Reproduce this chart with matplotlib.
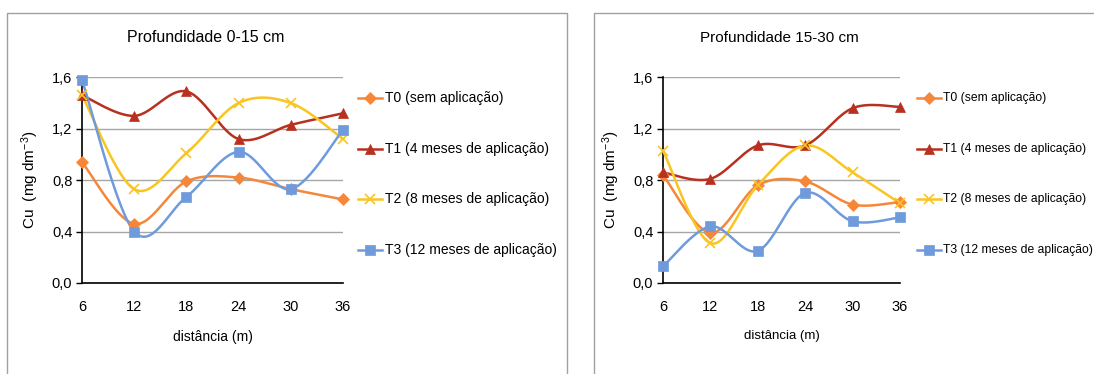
import numpy as np
import matplotlib
matplotlib.use("Agg")
import matplotlib.pyplot as plt
from matplotlib.patches import Rectangle
from matplotlib.lines import Line2D

plt.rcParams['font.family'] = ['Liberation Sans', 'DejaVu Sans']
plt.rcParams['mathtext.fontset'] = 'custom'
plt.rcParams['mathtext.rm'] = 'Liberation Sans'
plt.rcParams['mathtext.default'] = 'regular'

distancia = [6, 12, 18, 24, 30, 36]
series_labels = ["T0 (sem aplicação)", "T1 (4 meses de aplicação)",
                 "T2 (8 meses de aplicação)", "T3 (12 meses de aplicação)"]

p1_T0 = [0.94, 0.46, 0.79, 0.82, 0.73, 0.65]
p1_T1 = [1.46, 1.30, 1.49, 1.12, 1.23, 1.32]
p1_T2 = [1.46, 0.73, 1.01, 1.40, 1.40, 1.12]
p1_T3 = [1.58, 0.40, 0.67, 1.02, 0.73, 1.19]

p2_T0 = [0.84, 0.39, 0.76, 0.79, 0.61, 0.63]
p2_T1 = [0.86, 0.81, 1.07, 1.07, 1.36, 1.37]
p2_T2 = [1.03, 0.31, 0.76, 1.07, 0.86, 0.62]
p2_T3 = [0.13, 0.44, 0.25, 0.70, 0.48, 0.51]

titles = ["Profundidade 0-15 cm", "Profundidade 15-30 cm"]
yticks = [0.0, 0.4, 0.8, 1.2, 1.6]
ytick_labels = ["0,0", "0,4", "0,8", "1,2", "1,6"]

colors = ["#F5873A", "#B8301F", "#F8C521", "#6F9BDD"]
markers = ["D", "^", "x", "s"]
msizes = [6, 7, 7, 7.5]


def smooth(x, y, n=30):
    x = np.asarray(x, float); y = np.asarray(y, float)
    P = np.column_stack([x, y])
    P = np.vstack([P[0], P, P[-1]])
    out = []
    for i in range(1, len(P) - 2):
        p0, p1, p2, p3 = P[i - 1], P[i], P[i + 1], P[i + 2]
        c1 = p1 + (p2 - p0) / 6.0
        c2 = p2 - (p3 - p1) / 6.0
        t = np.linspace(0, 1, n)[:, None]
        b = ((1 - t) ** 3) * p1 + 3 * ((1 - t) ** 2) * t * c1 + 3 * (1 - t) * t ** 2 * c2 + t ** 3 * p2
        out.append(b if i == 1 else b[1:])
    B = np.vstack(out)
    return B[:, 0], B[:, 1]


W, H = 1094, 374
fig = plt.figure(figsize=(W / 100, H / 100), dpi=100)

# panel borders
fig.patches.append(Rectangle((7 / W, -0.1), (567 - 7) / W, 1.1 - 13 / H, transform=fig.transFigure,
                             fill=False, edgecolor="#A0A0A0", lw=1.0))
fig.patches.append(Rectangle((594 / W, -0.1), 0.5, 1.1 - 13 / H, transform=fig.transFigure,
                             fill=False, edgecolor="#A0A0A0", lw=1.0))

panels = [
    dict(data=[p1_T0, p1_T1, p1_T2, p1_T3], x0=82, x1=343, title_x=206, leg_x=358,
         leg_fs=10, title_fs=11.5, lab_fs=10, txt_off=27),
    dict(data=[p2_T0, p2_T1, p2_T2, p2_T3], x0=663, x1=900, title_x=779, leg_x=917,
         leg_fs=8.7, title_fs=11, lab_fs=9.5, txt_off=26),
]
ybot, ytop = 283, 77.3

for k, pan in enumerate(panels):
    ax = fig.add_axes([pan["x0"] / W, (H - ybot) / H, (pan["x1"] - pan["x0"]) / W, (ybot - ytop) / H])
    ax.set_xlim(6, 36)
    ax.set_ylim(0, 1.6)
    ax.set_yticks(yticks)
    ax.set_yticklabels(ytick_labels)
    ax.set_xticks(distancia)
    ax.set_xticklabels([str(d) for d in distancia])
    for s in ["top", "right"]:
        ax.spines[s].set_visible(False)
    ax.spines["left"].set_color("black")
    ax.spines["bottom"].set_color("black")
    ax.spines["left"].set_linewidth(1.2)
    ax.spines["bottom"].set_linewidth(1.2)
    ax.tick_params(axis="y", length=4, width=1, direction="out", labelsize=10.5, pad=3)
    ax.tick_params(axis="x", length=0, labelsize=10.5, pad=12)
    ax.grid(axis="y", color="#A6A6A6", lw=1.0)
    ax.set_axisbelow(True)
    for i, vals in enumerate(pan["data"]):
        sx, sy = smooth(distancia, vals)
        ax.plot(sx, sy, color=colors[i], lw=1.8, clip_on=False, zorder=3)
        ax.plot(distancia, vals, linestyle="none", marker=markers[i], ms=msizes[i],
                color=colors[i], mec=colors[i], mew=1.2 if markers[i] == "x" else 0.5,
                clip_on=False, zorder=4)
    ax.set_ylabel("Cu  (mg dm$^{-3}$)", fontsize=11, labelpad=8)
    ax.set_xlabel("distância (m)", fontsize=pan["lab_fs"], labelpad=12)
    fig.text(pan["title_x"] / W, 1 - 38 / H, titles[k], ha="center", va="center",
             fontsize=pan["title_fs"])
    # legend
    for i, lab in enumerate(series_labels):
        yy = 1 - [98, 149, 199, 250][i] / H
        lx = pan["leg_x"] / W
        fig.add_artist(Line2D([lx, lx + 24 / W], [yy, yy], color=colors[i], lw=1.8,
                              transform=fig.transFigure))
        fig.add_artist(Line2D([lx + 12 / W], [yy], marker=markers[i], ms=msizes[i] * 0.95,
                              color=colors[i], mec=colors[i],
                              mew=1.2 if markers[i] == "x" else 0.5,
                              transform=fig.transFigure, linestyle="none"))
        fig.text(lx + pan["txt_off"] / W, yy, lab, ha="left", va="center", fontsize=pan["leg_fs"])

fig.savefig("out.png", dpi=100)
